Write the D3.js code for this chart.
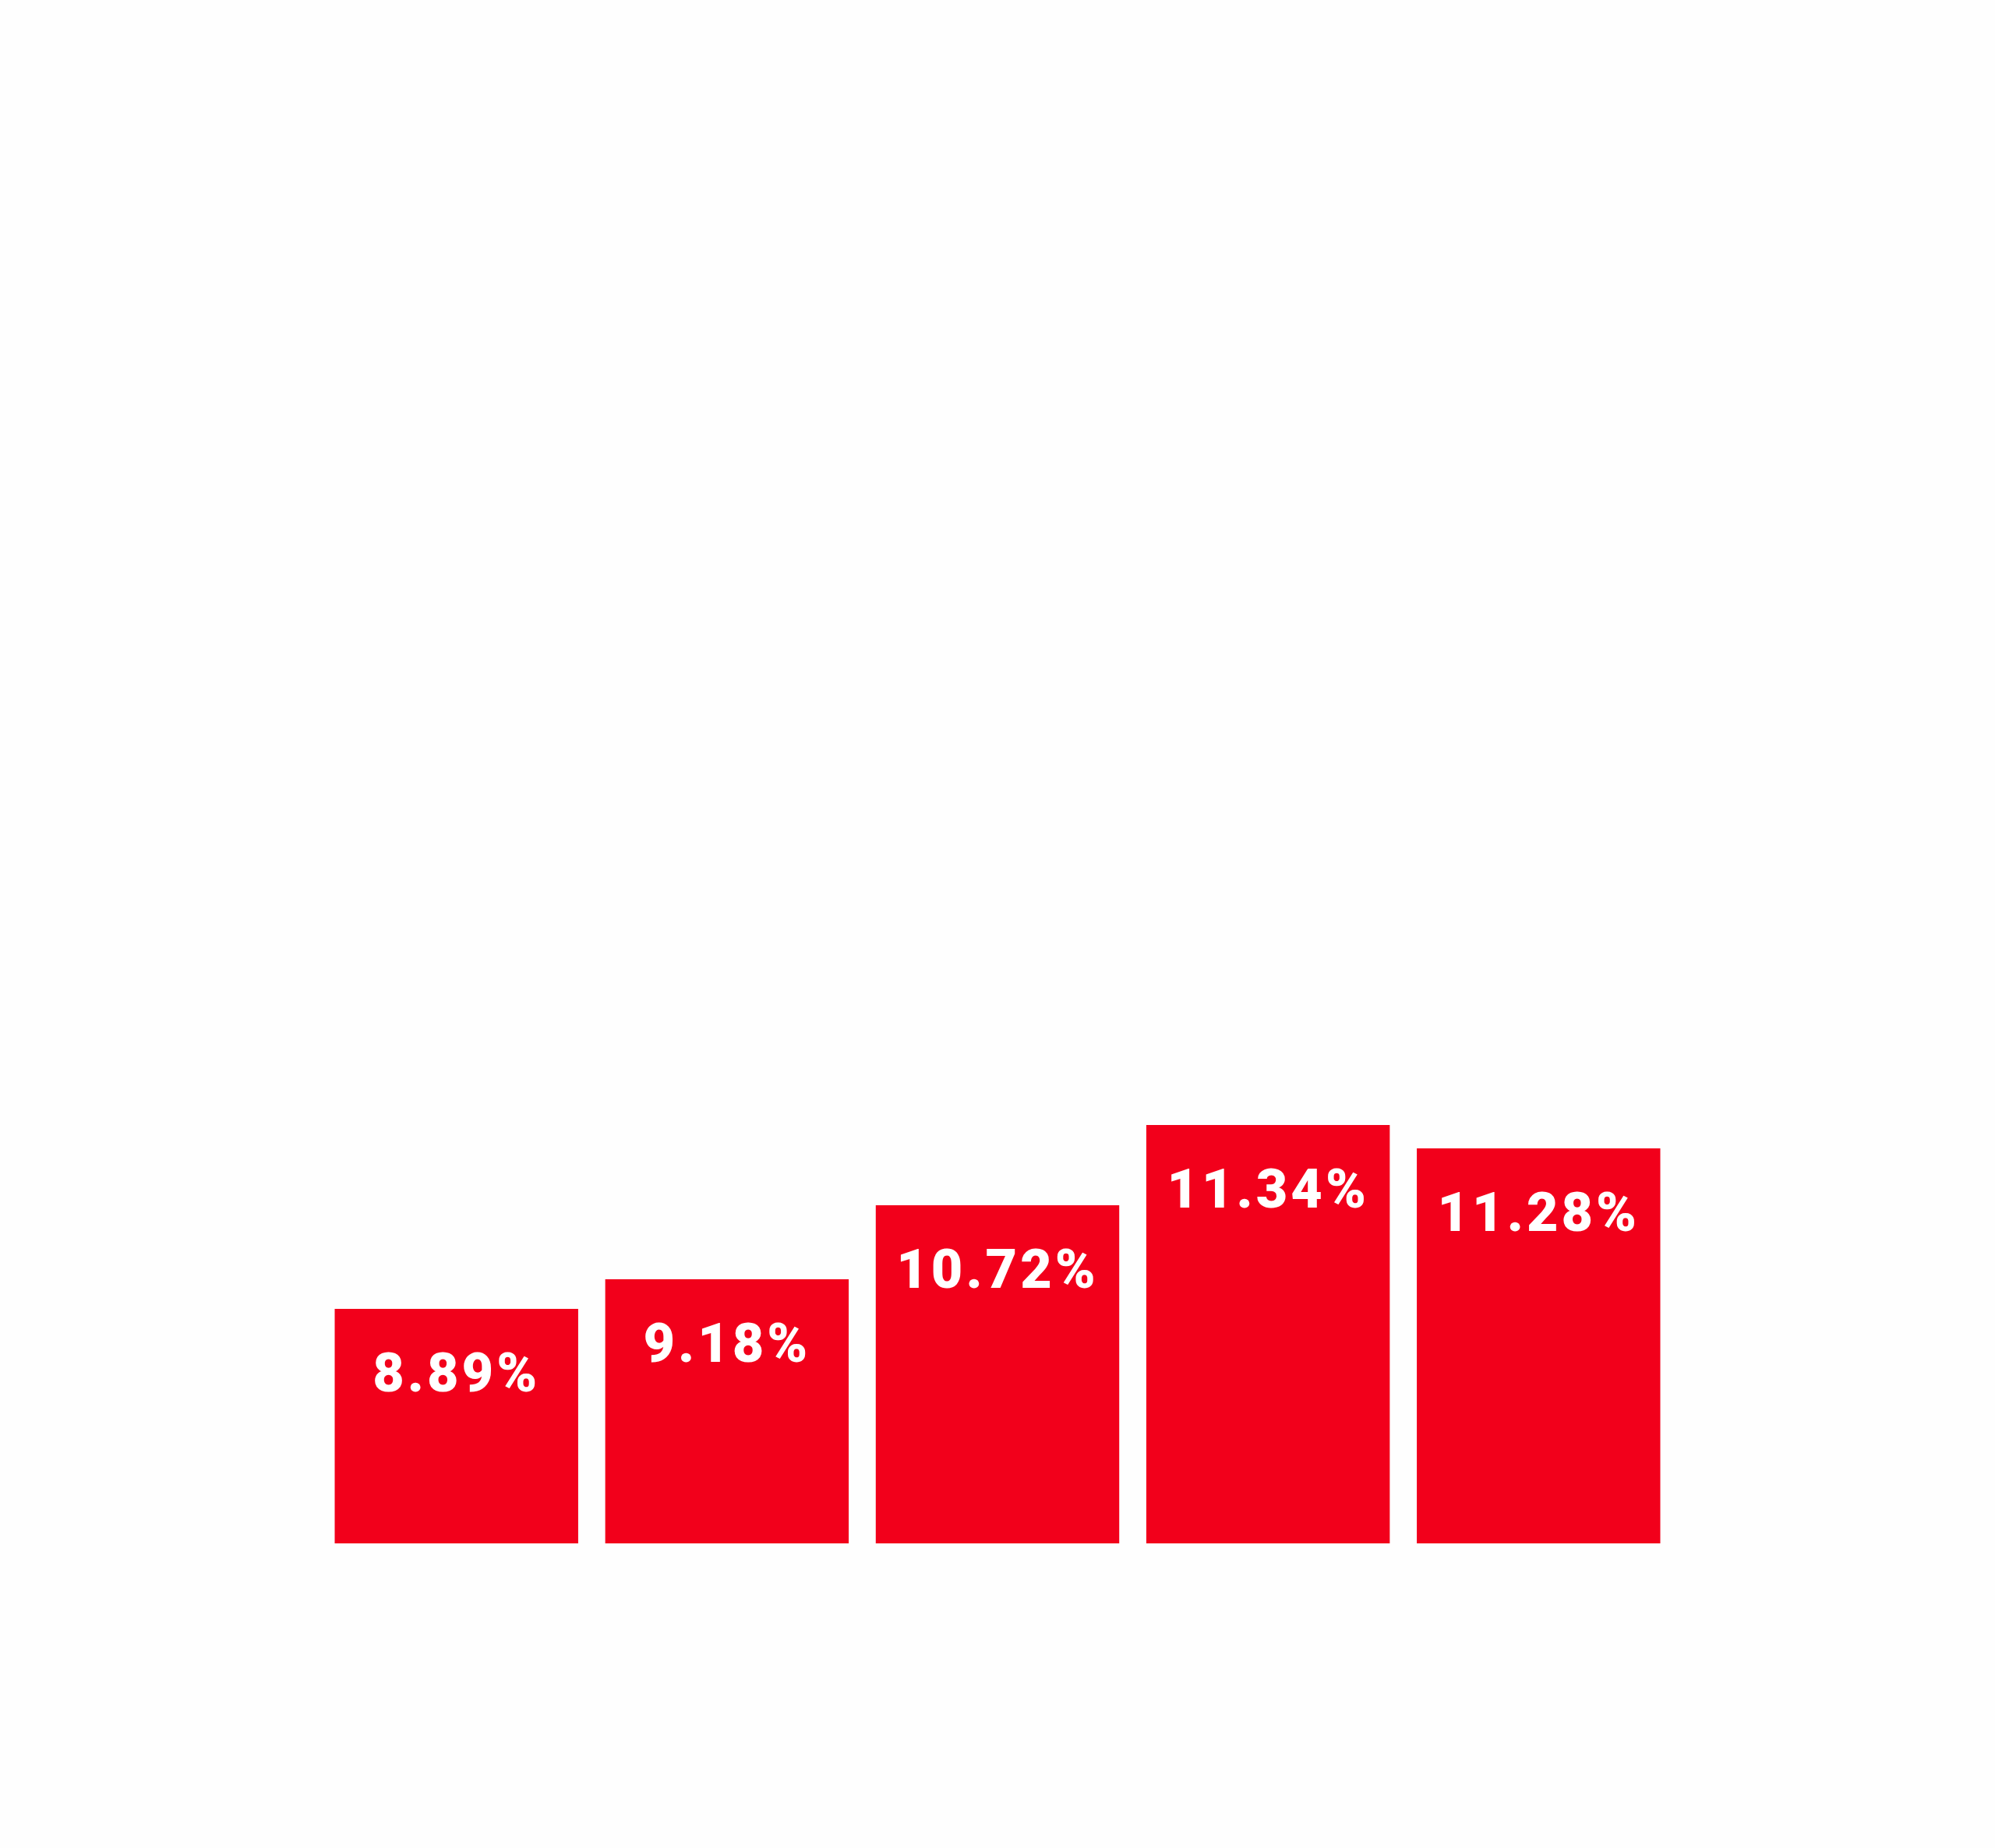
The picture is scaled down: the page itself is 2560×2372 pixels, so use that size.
<!DOCTYPE html>
<html>
<head>
<meta charset="utf-8">
<script src="https://cdn.jsdelivr.net/npm/d3@7"></script>
<style>
  html, body { margin: 0; padding: 0; background: #fefefe; }
  svg { display: block; }
  .bar-label { font-family: Roboto, "Open Sans", sans-serif; font-weight: 900; fill: #ffffff; }
</style>
</head>
<body>
<svg id="chart"></svg>
<script>
// bar heights (arbitrary units), plus the printed labels
const categories = ["A", "B", "C", "D", "E"];
const barValues = [301, 339, 434, 537, 507];
const labels = ["8.89%", "9.18%", "10.72%", "11.34%", "11.28%"];

const W = 2560, H = 2372;
const svg = d3.select("#chart").attr("width", W).attr("height", H);

svg.append("rect").attr("width", W).attr("height", H).attr("fill", "#fefefe");

const x = d3.scaleBand()
  .domain(categories)
  .range([429.5, 2130.5])
  .paddingInner(0.1)
  .paddingOuter(0);

const y = d3.scaleLinear()
  .domain([0, 600])
  .range([1981, 1381]);

const data = categories.map((c, i) => ({ cat: c, value: barValues[i], label: labels[i] }));

svg.append("g").selectAll("rect")
  .data(data)
  .enter().append("rect")
  .attr("x", d => x(d.cat))
  .attr("y", d => y(d.value))
  .attr("width", x.bandwidth())
  .attr("height", d => y(0) - y(d.value))
  .attr("fill", "#f2001b");

svg.append("g").selectAll("text")
  .data(data)
  .enter().append("text")
  .attr("class", "bar-label")
  .attr("x", d => x(d.cat) + x.bandwidth() / 2)
  .attr("y", d => y(d.value) + 106)
  .attr("text-anchor", "middle")
  .attr("font-size", 70)
  .attr("letter-spacing", 4)
  .text(d => d.label);
</script>
</body>
</html>
